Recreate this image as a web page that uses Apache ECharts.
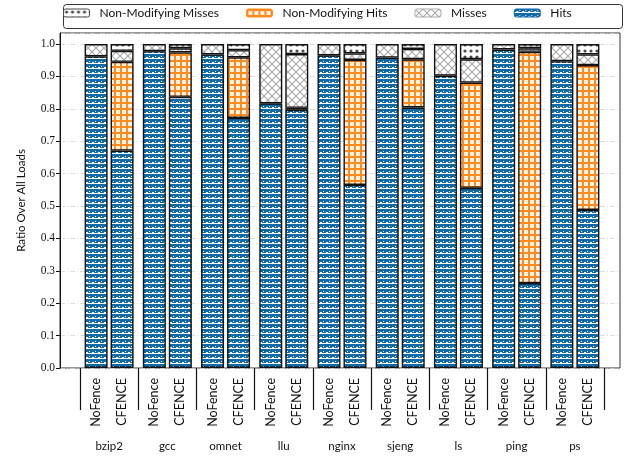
<!DOCTYPE html>
<html>
<head>
<meta charset="utf-8">
<script src="https://cdn.jsdelivr.net/npm/echarts@6/dist/echarts.min.js"></script>
<style>html,body{margin:0;padding:0;background:#fff;}#c{width:626px;height:456px;}</style>
</head>
<body>
<div id="c"></div>
<script>
const categories = ['bzip2','gcc','omnet','llu','nginx','sjeng','ls','ping','ps'];
const barLabels = ['NoFence','CFENCE'];
const legendNames = ['Non-Modifying Misses','Non-Modifying Hits','Misses','Hits'];
const yTicks = [0,0.1,0.2,0.3,0.4,0.5,0.6,0.7,0.8,0.9,1.0];

const nofenceHits     = [0.962,0.978,0.968,0.817,0.965,0.958,0.902,0.983,0.947];
const nofenceNMHits   = [0,0,0,0,0,0,0,0,0];
const nofenceMisses   = [0.038,0.022,0.032,0.183,0.035,0.042,0.098,0.017,0.053];
const nofenceNMMisses = [0,0,0,0,0,0,0,0,0];

const cfenceHits      = [0.671,0.837,0.772,0.797,0.565,0.804,0.556,0.262,0.488];
const cfenceNMHits    = [0.274,0.137,0.187,0.006,0.386,0.149,0.325,0.714,0.447];
const cfenceMisses    = [0.034,0.013,0.022,0.166,0.020,0.032,0.072,0.011,0.033];
const cfenceNMMisses  = [0.021,0.013,0.019,0.031,0.029,0.015,0.047,0.013,0.032];

const BLUE = '#106aa8', ORANGE = '#ff8a1e', GRAY = '#aaaaaa', DOT = '#4a4a4a';

function tile(w, h, draw) {
  const c = document.createElement('canvas');
  c.width = w; c.height = h;
  const g = c.getContext('2d');
  draw(g);
  return {image: c, repeat: 'repeat'};
}
const patHits = tile(6, 5, g => {
  g.fillStyle = BLUE; g.fillRect(0,0,6,5);
  g.fillStyle = '#ffffff';
  g.fillRect(0,3,6,1);
  g.fillRect(2,2,2,1);
  g.fillRect(5,1,1,1);
});
const patNMHits = tile(6, 6, g => {
  g.fillStyle = '#fff3e6'; g.fillRect(0,0,6,6);
  g.fillStyle = ORANGE;
  g.fillRect(0,0,6,2);
  g.fillRect(0,0,2,6);
});
const patMisses = tile(8, 8, g => {
  g.fillStyle = '#ffffff'; g.fillRect(0,0,8,8);
  g.strokeStyle = GRAY; g.lineWidth = 1.2;
  g.beginPath();
  g.moveTo(0,0); g.lineTo(8,8);
  g.moveTo(8,0); g.lineTo(0,8);
  g.stroke();
});
const patNMMisses = tile(6, 6, g => {
  g.fillStyle = '#ffffff'; g.fillRect(0,0,6,6);
  g.fillStyle = DOT;
  g.beginPath(); g.arc(3,3,1.6,0,Math.PI*2); g.fill();
});

const fills = {
  'Hits': patHits,
  'Non-Modifying Hits': patNMHits,
  'Misses': patMisses,
  'Non-Modifying Misses': patNMMisses
};
const legendBorder = {
  'Hits': BLUE,
  'Non-Modifying Hits': ORANGE,
  'Misses': GRAY,
  'Non-Modifying Misses': DOT
};

function mk(name, stack, arr) {
  return {
    type: 'bar', name: name, stack: stack,
    xAxisIndex: 0, yAxisIndex: 1,
    barWidth: 23, barGap: '13%',
    itemStyle: {color: fills[name], borderColor: '#111', borderWidth: 1.4},
    emphasis: {disabled: true},
    data: arr.map(v => v === 0 ? '-' : v)
  };
}

const series = [
  mk('Hits','nf',nofenceHits),
  mk('Non-Modifying Hits','nf',nofenceNMHits),
  mk('Misses','nf',nofenceMisses),
  mk('Non-Modifying Misses','nf',nofenceNMMisses),
  mk('Hits','cf',cfenceHits),
  mk('Non-Modifying Hits','cf',cfenceNMHits),
  mk('Misses','cf',cfenceMisses),
  mk('Non-Modifying Misses','cf',cfenceNMMisses)
];

const YMAX = 1.034;
const chart = echarts.init(document.getElementById('c'), null, {renderer: 'canvas'});
chart.setOption({
  animation: false,
  backgroundColor: '#fff',
  textStyle: {fontFamily: 'Lato'},
  graphic: [{
    type: 'rect', left: 61, top: 2, z: 0,
    shape: {width: 559, height: 24, r: 3},
    style: {fill: 'none', stroke: '#333', lineWidth: 1}
  }],
  legend: {
    left: 58, top: 4, padding: [3, 5],
    itemWidth: 26, itemHeight: 8, itemGap: 27,
    selectedMode: false,
    textStyle: {fontFamily: 'Lato', fontSize: 12, color: '#111', padding: [0,0,0,5]},
    data: legendNames.map(n => ({name: n, itemStyle: {borderColor: legendBorder[n], borderWidth: 1}}))
  },
  grid: [
    {left: 60, right: 6, top: 33, bottom: 88, show: true, borderColor: '#333', borderWidth: 1, backgroundColor: 'transparent'},
    {left: 80, right: 22, top: 33, bottom: 88}
  ],
  xAxis: [
    {
      gridIndex: 1, type: 'category', data: categories, position: 'bottom',
      axisLine: {show: false},
      axisTick: {show: true, length: 42, interval: 0, alignWithLabel: false, lineStyle: {color: '#111', width: 1.2}},
      axisLabel: {
        interval: 0, rotate: 90, margin: 10,
        formatter: () => barLabels.join('\n'),
        lineHeight: 26, fontSize: 12.5, color: '#111', fontFamily: 'Lato'
      }
    },
    {
      gridIndex: 1, type: 'category', data: categories, position: 'bottom',
      axisLine: {show: false}, axisTick: {show: false},
      axisLabel: {interval: 0, margin: 72, fontSize: 11.5, color: '#111', fontFamily: 'Lato'}
    },
    {gridIndex: 0, type: 'value', show: false, min: 0, max: 1}
  ],
  yAxis: [
    {
      gridIndex: 0, type: 'value', min: 0, max: YMAX, interval: 0.1,
      name: 'Ratio Over All Loads', nameLocation: 'middle', nameGap: 33,
      nameTextStyle: {fontFamily: 'Lato', fontSize: 11.5, color: '#111'},
      axisLine: {show: true, lineStyle: {color: '#111', width: 1}},
      axisTick: {show: true, length: 4, lineStyle: {color: '#111'}},
      axisLabel: {
        showMaxLabel: false, fontFamily: 'Liberation Serif', fontSize: 11.5, color: '#111', margin: 5,
        formatter: v => yTicks.some(t => Math.abs(t - v) < 1e-9) ? v.toFixed(1) : ''
      },
      splitLine: {show: true, lineStyle: {color: '#d4d4d4', width: 0.8, type: [5, 2, 1, 2]}}
    },
    {gridIndex: 1, type: 'value', min: 0, max: YMAX, show: false}
  ],
  series: series
});
</script>
</body>
</html>
